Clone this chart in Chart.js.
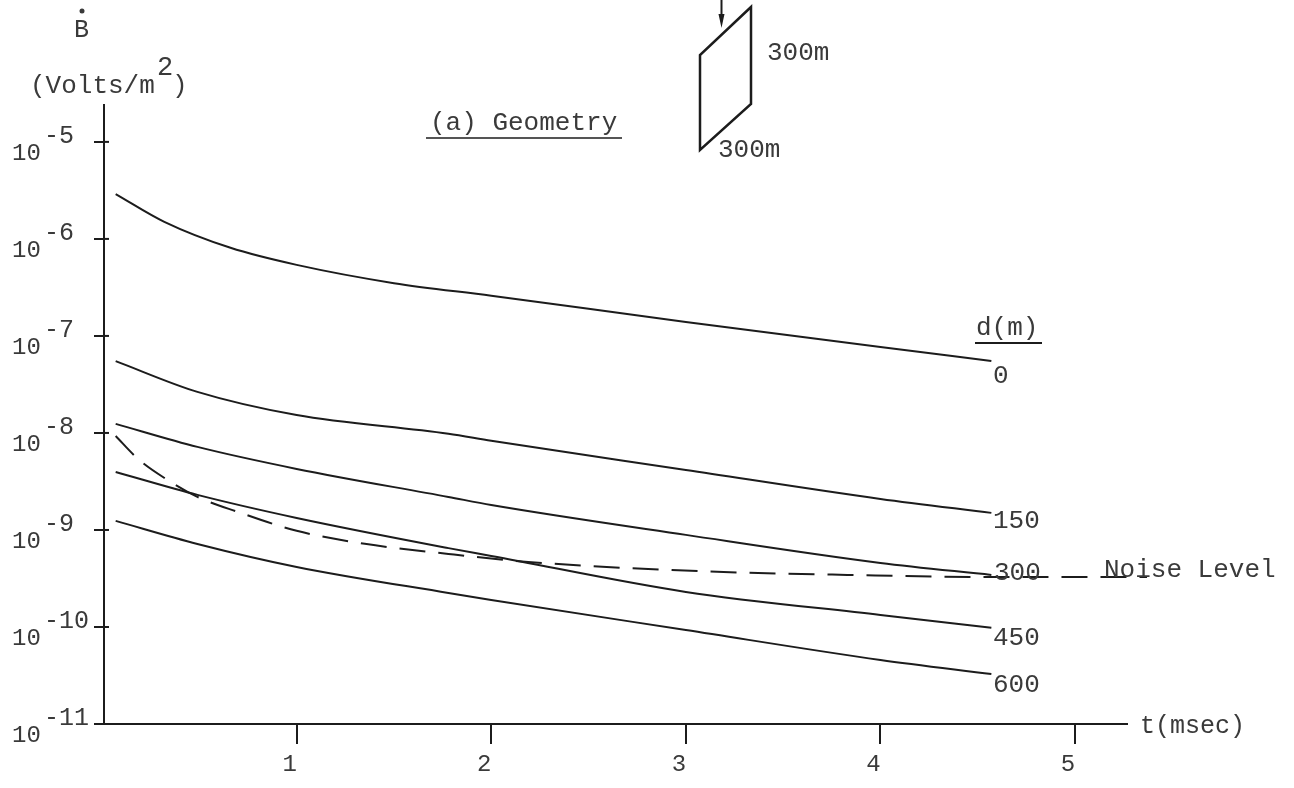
<!DOCTYPE html>
<html>
<head>
<meta charset="utf-8">
<title>Bdot decay curves</title>
<script src="https://cdn.jsdelivr.net/npm/chart.js@4/dist/chart.umd.min.js"></script>
<style>
  body { margin: 0; background: #fff; }
  canvas { display: block; }
</style>
</head>
<body>
<canvas id="my-chart" width="1294" height="788"></canvas>
<script>
// time samples in msec
const topTimes = [0.07, 0.32, 0.66, 1.0, 1.5, 2, 3, 4, 4.57];
const curveTimes = [0.07, 0.49, 1, 1.78, 2, 3, 4, 4.57];
const noiseTimes = [0.07, 0.185, 0.32, 0.49, 0.7, 1.0, 1.35, 1.78, 2.19, 3.06, 3.83, 4.6, 5.37];

// Bdot values in Volts/m2, one list per depth d(m)
const depth0 = [2.9e-6, 1.5e-6, 8.1e-7, 5.4e-7, 3.5e-7, 2.6e-7, 1.39e-7, 7.7e-8, 5.5e-8];
const depth150 = [5.5e-8, 2.65e-8, 1.53e-8, 9.8e-9, 8.3e-9, 4.16e-9, 2.09e-9, 1.5e-9];
const depth300 = [1.24e-8, 7.18e-9, 4.26e-9, 2.19e-9, 1.81e-9, 8.9e-10, 4.57e-10, 3.44e-10];
const depth450 = [3.96e-9, 2.3e-9, 1.33e-9, 6.5e-10, 5.4e-10, 2.3e-10, 1.33e-10, 9.8e-11];
const depth600 = [1.24e-9, 7.18e-10, 4.16e-10, 2.24e-10, 1.9e-10, 9.3e-11, 4.57e-11, 3.27e-11];
const noiseLevel = [9.3e-9, 5.4e-9, 3.44e-9, 2.19e-9, 1.53e-9, 9.8e-10, 7.2e-10, 5.66e-10, 4.68e-10, 3.77e-10, 3.44e-10, 3.27e-10, 3.27e-10];

const xTicks = [1, 2, 3, 4, 5];
const yExponents = [-5, -6, -7, -8, -9, -10, -11];

const INK = "#1c1c1c";
const TEXT = "#3a3a3a";
const FONT = '"Liberation Mono", monospace';

function toPoints(times, values) {
  return times.map((t, i) => ({ x: t, y: values[i] }));
}

function curve(label, times, values) {
  return {
    label: label,
    data: toPoints(times, values),
    borderColor: INK,
    borderWidth: 2,
    pointRadius: 0,
    cubicInterpolationMode: "monotone",
  };
}

function text(ctx, str, x, y, size) {
  ctx.font = size + "px " + FONT;
  ctx.fillText(str, x, y);
}

function stroke(ctx, points, width) {
  ctx.lineWidth = width;
  ctx.beginPath();
  points.forEach((p, i) => (i ? ctx.lineTo(p[0], p[1]) : ctx.moveTo(p[0], p[1])));
  ctx.stroke();
}

// everything the axes can't do: superscript labels, annotations, loop sketch
const annotations = {
  id: "annotations",
  afterDraw(chart) {
    const ctx = chart.ctx;
    const yScale = chart.scales.y;
    ctx.save();
    ctx.fillStyle = TEXT;
    ctx.strokeStyle = INK;
    ctx.textBaseline = "alphabetic";
    ctx.textAlign = "left";

    // y tick labels and the short stub inside the axis
    for (const exp of yExponents) {
      const py = yScale.getPixelForValue(Math.pow(10, exp));
      text(ctx, "10", 12, py + 18, 24);
      text(ctx, String(exp), 44, py + 1, 25);
      stroke(ctx, [[yScale.right, py], [yScale.right + 5, py]], 2);
    }

    // y axis title
    text(ctx, "B", 74, 37, 25);
    ctx.beginPath();
    ctx.arc(82, 11, 2.5, 0, Math.PI * 2);
    ctx.fill();
    text(ctx, "(Volts/m", 30, 93, 26);
    text(ctx, "2", 157, 75, 27);
    text(ctx, ")", 172, 93, 26);

    // x axis title
    text(ctx, "t(msec)", 1140, 733, 25);

    // curve labels
    text(ctx, "d(m)", 976, 335, 26);
    stroke(ctx, [[975, 343], [1042, 343]], 2);
    text(ctx, "0", 993, 383, 26);
    text(ctx, "150", 993, 528, 26);
    text(ctx, "300", 994, 580, 26);
    text(ctx, "450", 993, 645, 26);
    text(ctx, "600", 993, 692, 26);
    text(ctx, "Noise Level", 1104, 577, 26);

    // geometry sketch
    text(ctx, "(a) Geometry", 430, 130, 26);
    stroke(ctx, [[426, 138], [622, 138]], 1.5);
    ctx.lineJoin = "miter";
    ctx.beginPath();
    ctx.moveTo(751, 7);
    ctx.lineTo(751, 104);
    ctx.lineTo(700, 150);
    ctx.lineTo(700, 55);
    ctx.closePath();
    ctx.lineWidth = 2.5;
    ctx.stroke();
    stroke(ctx, [[721.5, 0], [721.5, 20]], 2);
    ctx.beginPath();
    ctx.moveTo(718.5, 14);
    ctx.lineTo(724.5, 14);
    ctx.lineTo(721.5, 28);
    ctx.closePath();
    ctx.fillStyle = INK;
    ctx.fill();
    ctx.fillStyle = TEXT;
    text(ctx, "300m", 767, 60, 26);
    text(ctx, "300m", 718, 157, 26);
    ctx.restore();
  },
};

new Chart(document.querySelector("#my-chart"), {
  type: "line",
  data: {
    datasets: [
      curve("0", topTimes, depth0),
      curve("150", curveTimes, depth150),
      curve("300", curveTimes, depth300),
      curve("450", curveTimes, depth450),
      curve("600", curveTimes, depth600),
      Object.assign(curve("Noise Level", noiseTimes, noiseLevel), { borderDash: [26, 13], clip: false }),
    ],
  },
  options: {
    responsive: false,
    animation: false,
    layout: { padding: { top: 105, right: 167, left: 0, bottom: 0 } },
    plugins: { legend: { display: false }, title: { display: false }, tooltip: { enabled: false } },
    scales: {
      x: {
        type: "linear",
        min: 0.01,
        max: 5.267,
        afterBuildTicks: (scale) => { scale.ticks = xTicks.map((v) => ({ value: v })); },
        afterFit: (scale) => { scale.height = 64; },
        border: { color: INK, width: 2 },
        grid: { drawOnChartArea: false, color: INK, lineWidth: 2, tickLength: 20 },
        ticks: {
          color: TEXT,
          font: { family: "Liberation Mono", size: 24 },
          padding: 6,
          labelOffset: -7,
          maxRotation: 0,
          autoSkip: false,
          callback: (v) => String(v),
        },
      },
      y: {
        type: "logarithmic",
        min: 1e-11,
        max: 2.4e-5,
        afterBuildTicks: (scale) => { scale.ticks = yExponents.map((e) => ({ value: Math.pow(10, e) })); },
        afterFit: (scale) => { scale.width = 104; },
        border: { color: INK, width: 2 },
        grid: { drawOnChartArea: false, color: INK, lineWidth: 2, tickLength: 10 },
        ticks: { display: false },
      },
    },
  },
  plugins: [annotations],
});
</script>
</body>
</html>
